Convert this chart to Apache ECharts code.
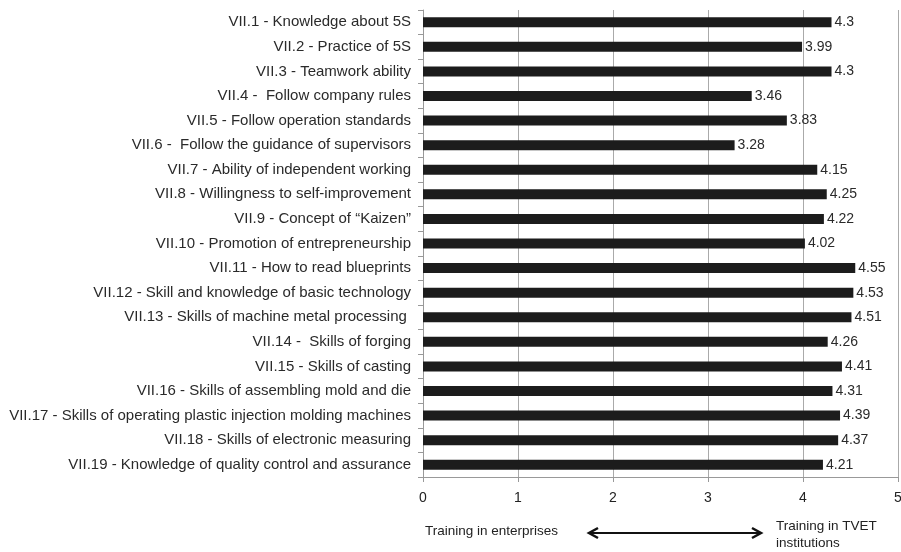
<!DOCTYPE html>
<html>
<head>
<meta charset="utf-8">
<script src="https://cdn.jsdelivr.net/npm/echarts@6/dist/echarts.min.js"></script>
<style>
  html, body { margin: 0; padding: 0; background: #fff; }
  #chart { width: 901px; height: 552px; }
</style>
</head>
<body>
<div id="chart"></div>
<script>
// categories (top to bottom)
var items = [
  "VII.1 - Knowledge about 5S",
  "VII.2 - Practice of 5S",
  "VII.3 - Teamwork ability",
  "VII.4 -  Follow company rules",
  "VII.5 - Follow operation standards",
  "VII.6 -  Follow the guidance of supervisors",
  "VII.7 - Ability of independent working",
  "VII.8 - Willingness to self-improvement",
  "VII.9 - Concept of \u201cKaizen\u201d",
  "VII.10 - Promotion of entrepreneurship",
  "VII.11 - How to read blueprints",
  "VII.12 - Skill and knowledge of basic technology",
  "VII.13 - Skills of machine metal processing ",
  "VII.14 -  Skills of forging",
  "VII.15 - Skills of casting",
  "VII.16 - Skills of assembling mold and die",
  "VII.17 - Skills of operating plastic injection molding machines",
  "VII.18 - Skills of electronic measuring",
  "VII.19 - Knowledge of quality control and assurance"
];
var scores = [4.3, 3.99, 4.3, 3.46, 3.83, 3.28, 4.15, 4.25, 4.22, 4.02,
              4.55, 4.53, 4.51, 4.26, 4.41, 4.31, 4.39, 4.37, 4.21];
var xTicks = [0, 1, 2, 3, 4, 5];

var chart = echarts.init(document.getElementById("chart"));
var font = "Liberation Sans, Arial, sans-serif";

var option = {
  animation: false,
  textStyle: { fontFamily: font },
  grid: { left: 423, right: 3, top: 10, bottom: 75, containLabel: false, outerBoundsMode: "none" },
  xAxis: {
    type: "value",
    min: xTicks[0],
    max: xTicks[xTicks.length - 1],
    interval: 1,
    axisLine: { show: true, lineStyle: { color: "#999", width: 1 } },
    axisTick: { show: true, length: 5, lineStyle: { color: "#999" } },
    axisLabel: { color: "#222", fontSize: 14, margin: 14 },
    splitLine: { show: true, lineStyle: { color: "#aaa", width: 1 } }
  },
  yAxis: {
    type: "category",
    inverse: true,
    data: items,
    axisLine: { show: true, lineStyle: { color: "#999" } },
    axisTick: { show: true, length: 5, lineStyle: { color: "#999" } },
    axisLabel: { color: "#2a2a2a", fontSize: 15, margin: 12 }
  },
  series: [{
    type: "bar",
    data: scores,
    barWidth: 10,
    itemStyle: { color: "#1c1c1c" },
    label: {
      show: true,
      position: "right",
      distance: 3,
      color: "#2a2a2a",
      fontSize: 14,
      fontFamily: font
    }
  }],
  graphic: [
    {
      type: "text", left: 425, top: 524,
      style: { text: "Training in enterprises", fill: "#222", font: "13.5px " + font }
    },
    {
      type: "text", left: 776, top: 518,
      style: { text: "Training in TVET\ninstitutions", fill: "#222", font: "13.5px " + font, lineHeight: 17 }
    },
    {
      type: "line",
      shape: { x1: 590, y1: 533, x2: 760, y2: 533 },
      style: { stroke: "#111", lineWidth: 2 }
    },
    {
      type: "polyline",
      shape: { points: [[598, 528], [589, 533], [598, 538]] },
      style: { stroke: "#111", lineWidth: 2.5, fill: null }
    },
    {
      type: "polyline",
      shape: { points: [[752, 528], [761, 533], [752, 538]] },
      style: { stroke: "#111", lineWidth: 2.5, fill: null }
    }
  ]
};
chart.setOption(option);
</script>
</body>
</html>
